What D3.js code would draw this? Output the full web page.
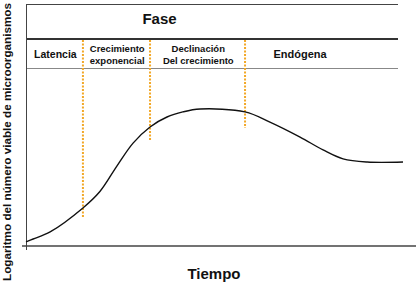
<!DOCTYPE html>
<html>
<head>
<meta charset="utf-8">
<script src="https://cdn.jsdelivr.net/npm/d3@7"></script>
<style>
  body { margin: 0; background: #fff; }
  text { font-family: "Liberation Sans", Arial, sans-serif; font-weight: bold; fill: #111; }
</style>
</head>
<body>
<div id="chart"></div>
<script>
// curve (time, log of viable count), arbitrary units 0..10
const tiempo = [0, 0.19, 0.64, 1.51, 1.96, 2.41, 2.84, 3.29, 3.74, 4.16, 4.62, 5.81, 6.47, 7.27, 7.88, 8.41, 9.05, 10];
const logViables = [0.17, 0.29, 0.58, 1.57, 2.25, 3.30, 4.25, 4.92, 5.33, 5.54, 5.66, 5.54, 5.12, 4.50, 3.97, 3.60, 3.47, 3.47];

// phase boundaries and where their dotted marker stops
const limitesFase = [1.51, 3.29, 5.81];
const finMarcador = [1.2, 4.38, 4.88];

const fases = [
  { lineas: ['Latencia'], t: 0.78, size: 10.5 },
  { lineas: ['Crecimiento', 'exponencial'], t: 2.42, size: 9.5 },
  { lineas: ['Declinación', 'Del crecimiento'], t: 4.57, size: 9.5 },
  { lineas: ['Endógena'], t: 7.27, size: 11 }
];

const width = 418;
const height = 284;

const svg = d3.select('#chart').append('svg')
  .attr('width', width)
  .attr('height', height);

const x = d3.scaleLinear().domain([0, 10]).range([26, 403]);
const y = d3.scaleLinear().domain([0, 10]).range([246, 4]);

// phase band lines
svg.append('line')
  .attr('x1', 26).attr('x2', 398).attr('y1', 4.5).attr('y2', 4.5)
  .attr('stroke', '#444').attr('stroke-width', 1);
svg.append('line')
  .attr('x1', 26).attr('x2', 398).attr('y1', 39).attr('y2', 39)
  .attr('stroke', '#333').attr('stroke-width', 2);
svg.append('line')
  .attr('x1', 26).attr('x2', 398).attr('y1', 68.5).attr('y2', 68.5)
  .attr('stroke', '#888').attr('stroke-width', 1);

// axes
svg.append('line')
  .attr('x1', 26.5).attr('x2', 26.5).attr('y1', 4).attr('y2', 250)
  .attr('stroke', '#444').attr('stroke-width', 1);
svg.append('line')
  .attr('x1', 22).attr('x2', 416).attr('y1', 246).attr('y2', 246)
  .attr('stroke', '#444').attr('stroke-width', 1.5);

// dotted phase markers
svg.selectAll('.marcador')
  .data(limitesFase)
  .join('line')
    .attr('class', 'marcador')
    .attr('x1', d => x(d)).attr('x2', d => x(d))
    .attr('y1', 40)
    .attr('y2', (d, i) => y(finMarcador[i]))
    .attr('stroke', '#f2a828')
    .attr('stroke-width', 2)
    .attr('stroke-dasharray', '2,1.5');

// growth curve
const line = d3.line()
  .x(d => x(d[0]))
  .y(d => y(d[1]))
  .curve(d3.curveCatmullRom.alpha(0.5));

svg.append('path')
  .datum(d3.zip(tiempo, logViables))
  .attr('d', line)
  .attr('fill', 'none')
  .attr('stroke', '#111')
  .attr('stroke-width', 1.4);

// titles
svg.append('text')
  .attr('x', 159.5).attr('y', 24)
  .attr('text-anchor', 'middle')
  .style('font-size', '15px')
  .text('Fase');

const faseGroups = svg.selectAll('.fase')
  .data(fases)
  .join('text')
    .attr('class', 'fase')
    .attr('text-anchor', 'middle')
    .style('font-size', d => d.size + 'px');

faseGroups.selectAll('tspan')
  .data(d => d.lineas.map((l, i) => ({ l, i, n: d.lineas.length, t: d.t })))
  .join('tspan')
    .attr('x', d => x(d.t))
    .attr('y', d => d.n === 1 ? 58 : 51.5 + d.i * 12)
    .text(d => d.l);

svg.append('text')
  .attr('x', 214).attr('y', 279)
  .attr('text-anchor', 'middle')
  .style('font-size', '15px')
  .text('Tiempo');

svg.append('text')
  .attr('transform', 'translate(10.5,142) rotate(-90)')
  .attr('text-anchor', 'middle')
  .attr('textLength', 278)
  .attr('lengthAdjust', 'spacingAndGlyphs')
  .style('font-size', '11px')
  .text('Logaritmo del número viable de microorganismos');
</script>
</body>
</html>
